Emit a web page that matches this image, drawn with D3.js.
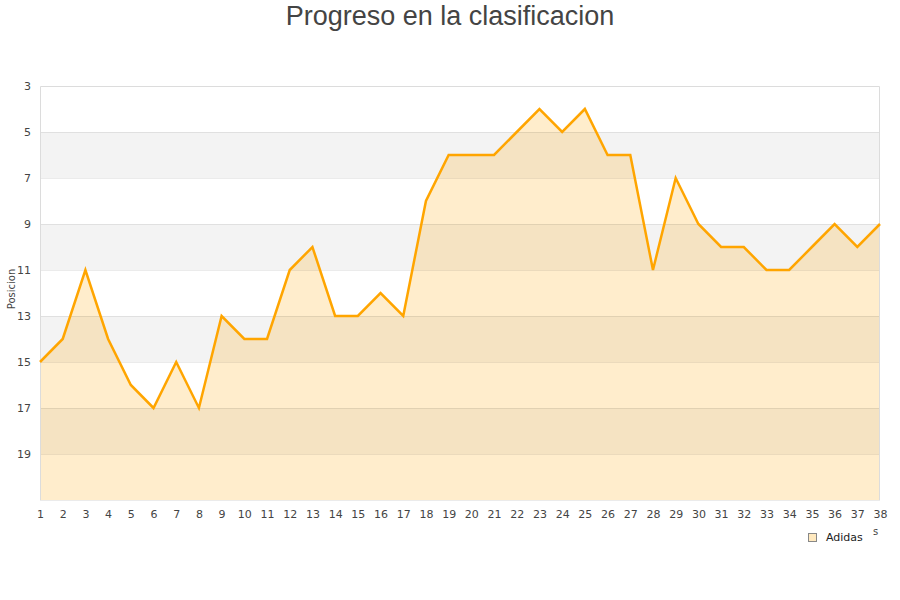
<!DOCTYPE html>
<html><head><meta charset="utf-8">
<script src="https://cdn.jsdelivr.net/npm/d3@7"></script>
<style>body{margin:0;background:#fff}svg{display:block}</style>
</head><body>
<svg id="c" width="900" height="600"></svg>
<script>
const jornadas = d3.range(1, 39);
const posiciones = [15,14,11,14,16,17,15,17,13,14,14,11,10,13,13,12,13,8,6,6,6,5,4,5,4,6,6,11,7,9,10,10,11,11,10,9,10,9];
const yTicks = [3,5,7,9,11,13,15,17,19];
const seriesName = "Adidas";
const titleText = "Progreso en la clasificacion";
const yLabel = "Posicion";

const svg = d3.select("#c");
const m = {l:40, r:880, t:86, b:500};
const x = d3.scaleLinear().domain([1,38]).range([m.l, m.r]);
const y = d3.scaleLinear().domain([3,21]).range([m.t, m.b]);

// bands
const bands = d3.range(3, 21, 2);
svg.selectAll("rect.band").data(bands).enter().append("rect")
  .attr("x", m.l).attr("width", m.r - m.l)
  .attr("y", d => y(d)).attr("height", d => y(d+2) - y(d))
  .attr("fill", (d,i) => i % 2 ? "#f3f3f3" : "#ffffff");

// area
const area = d3.area().x((d,i) => x(jornadas[i])).y0(y(21)).y1(d => y(d));
svg.append("path").datum(posiciones).attr("d", area)
  .attr("fill", "#ffa500").attr("fill-opacity", 0.2);

// grid
svg.selectAll("line.grid").data(yTicks.slice(1).concat([21])).enter().append("line")
  .attr("x1", m.l).attr("x2", m.r).attr("y1", d => y(d)).attr("y2", d => y(d))
  .attr("stroke", "#000").attr("stroke-opacity", 0.08).attr("shape-rendering","crispEdges");
// border
svg.append("path")
  .attr("d", `M${m.l+0.5},${m.b}V${m.t+0.5}H${m.r-0.5}V${m.b}`)
  .attr("fill", "none").attr("stroke", "#dcdcdc");

// line
const line = d3.line().x((d,i) => x(jornadas[i])).y(d => y(d));
svg.append("path").datum(posiciones).attr("d", line)
  .attr("fill", "none").attr("stroke", "#ffa500").attr("stroke-width", 2.5)
  .attr("stroke-linejoin", "miter");

// axes
const font = "DejaVu Sans, Verdana, sans-serif";
const yAxis = d3.axisLeft(y).tickValues(yTicks).tickSize(0).tickPadding(9);
const gy = svg.append("g").attr("transform", `translate(${m.l},0)`).call(yAxis);
gy.select(".domain").remove();
gy.selectAll("text").attr("font-family", font).attr("font-size", 11).attr("fill", "#444");

const xAxis = d3.axisBottom(x).tickValues(jornadas).tickSize(0).tickPadding(10);
const gx = svg.append("g").attr("transform", `translate(0,${m.b})`).call(xAxis);
gx.select(".domain").remove();
gx.selectAll("text").attr("font-family", font).attr("font-size", 11).attr("fill", "#444");

// title
svg.append("text").attr("x", 450).attr("y", 25).attr("text-anchor", "middle")
  .attr("font-family", "Liberation Sans, Arial, sans-serif").attr("font-size", 27)
  .attr("fill", "#444").text(titleText);

// y label
svg.append("text").attr("transform", "translate(15,289) rotate(-90)")
  .attr("text-anchor", "middle").attr("font-family", font).attr("font-size", 10)
  .attr("fill", "#444").text(yLabel);

// stray axis title fragment
svg.append("text").attr("x", 873).attr("y", 535).attr("font-family", font)
  .attr("font-size", 10).attr("fill", "#444").text("s");

// legend
svg.append("rect").attr("x", 808.5).attr("y", 533.5).attr("width", 8).attr("height", 8)
  .attr("fill", "#ffe9bf").attr("stroke", "#888");
svg.append("text").attr("x", 826).attr("y", 541).attr("font-family", font)
  .attr("font-size", 11).attr("fill", "#222").text(seriesName);
</script>
</body></html>
